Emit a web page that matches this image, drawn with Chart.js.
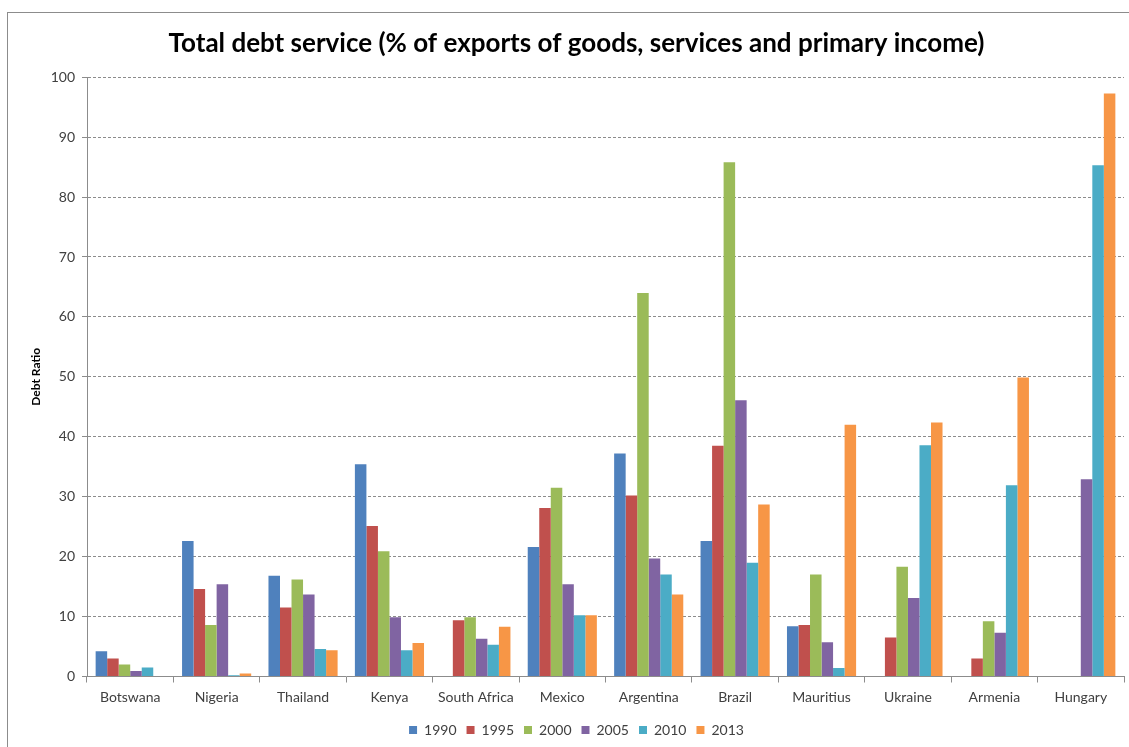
<!DOCTYPE html>
<html>
<head>
<meta charset="utf-8">
<script src="https://cdn.jsdelivr.net/npm/chart.js@4.4.0/dist/chart.umd.min.js"></script>
<style>
  html, body { margin: 0; padding: 0; background: #fff; }
  #wrap { position: relative; width: 1129px; height: 747px; overflow: hidden; }
  #frame { position: absolute; left: 7px; top: 12px; width: 1140px; height: 760px; border: 1px solid #8c8c8c; box-sizing: border-box; }
  canvas { position: absolute; left: 0; top: 0; }
</style>
</head>
<body>
<div id="wrap">
  <div id="frame"></div>
  <canvas id="chart" width="1129" height="747"></canvas>
</div>
<script>
const countries = ['Botswana', 'Nigeria', 'Thailand', 'Kenya', 'South Africa', 'Mexico',
  'Argentina', 'Brazil', 'Mauritius', 'Ukraine', 'Armenia', 'Hungary'];

const years = ['1990', '1995', '2000', '2005', '2010', '2013'];

// values, null where no bar is drawn
const y1990 = [4.2, 22.6, 16.8, 35.4, null, 21.6, 37.2, 22.6, 8.4, null, null, null];
const y1995 = [3.0, 14.6, 11.5, 25.1, 9.4, 28.1, 30.2, 38.5, 8.6, 6.5, 3.0, null];
const y2000 = [2.0, 8.6, 16.2, 20.9, 9.9, 31.5, 64.0, 85.8, 17.0, 18.3, 9.2, null];
const y2005 = [0.9, 15.4, 13.7, 9.9, 6.3, 15.4, 19.7, 46.1, 5.7, 13.1, 7.3, 32.9];
const y2010 = [1.5, 0.2, 4.6, 4.4, 5.3, 10.2, 17.0, 19.0, 1.4, 38.6, 31.9, 85.3];
const y2013 = [null, 0.5, 4.4, 5.6, 8.3, 10.2, 13.7, 28.7, 42.0, 42.4, 49.9, 97.3];

const colors = ['#4f81bd', '#c0504d', '#9bbb59', '#8064a2', '#4bacc6', '#f79646'];
const series = [y1990, y1995, y2000, y2005, y2010, y2013];

const font = 'Lato, "Open Sans", sans-serif';
const axisColor = '#8c8c8c';

new Chart(document.getElementById('chart'), {
  type: 'bar',
  data: {
    labels: countries,
    datasets: series.map((vals, i) => ({
      label: years[i],
      data: vals,
      backgroundColor: colors[i],
      borderWidth: 0,
      categoryPercentage: 0.8,
      barPercentage: 1.0
    }))
  },
  options: {
    responsive: false,
    animation: false,
    layout: { padding: { left: 29, right: 5, top: 28, bottom: 0 } },
    plugins: {
      title: {
        display: true,
        text: 'Total debt service (% of exports of goods, services and primary income)',
        color: '#000',
        font: { family: font, size: 26, weight: 'bold' },
        padding: { top: 0, bottom: 18 }
      },
      legend: {
        position: 'bottom',
        labels: {
          boxWidth: 8,
          boxHeight: 8,
          padding: 10,
          color: '#404040',
          font: { family: font, size: 14 }
        }
      },
      tooltip: { enabled: false }
    },
    scales: {
      x: {
        afterFit: scale => { scale.height = 36.5; },
        grid: {
          display: true,
          drawOnChartArea: false,
          drawTicks: true,
          tickLength: 6,
          color: axisColor
        },
        border: { display: true, color: axisColor },
        ticks: {
          color: '#404040',
          padding: 7,
          font: { family: font, size: 14 }
        }
      },
      y: {
        min: 0,
        max: 100,
        afterFit: scale => { scale.width = 58; },
        ticks: {
          stepSize: 10,
          color: '#404040',
          padding: 7,
          font: { family: font, size: 14 }
        },
        grid: {
          color: '#8c8c8c',
          tickLength: 5,
          tickColor: axisColor,
          tickBorderDash: []
        },
        border: { display: true, color: axisColor, dash: [3, 2] },
        title: {
          display: true,
          text: 'Debt Ratio',
          color: '#000',
          font: { family: font, size: 12, weight: 'bold' },
          padding: { top: 0, bottom: 0 }
        }
      }
    }
  }
});
</script>
</body>
</html>
